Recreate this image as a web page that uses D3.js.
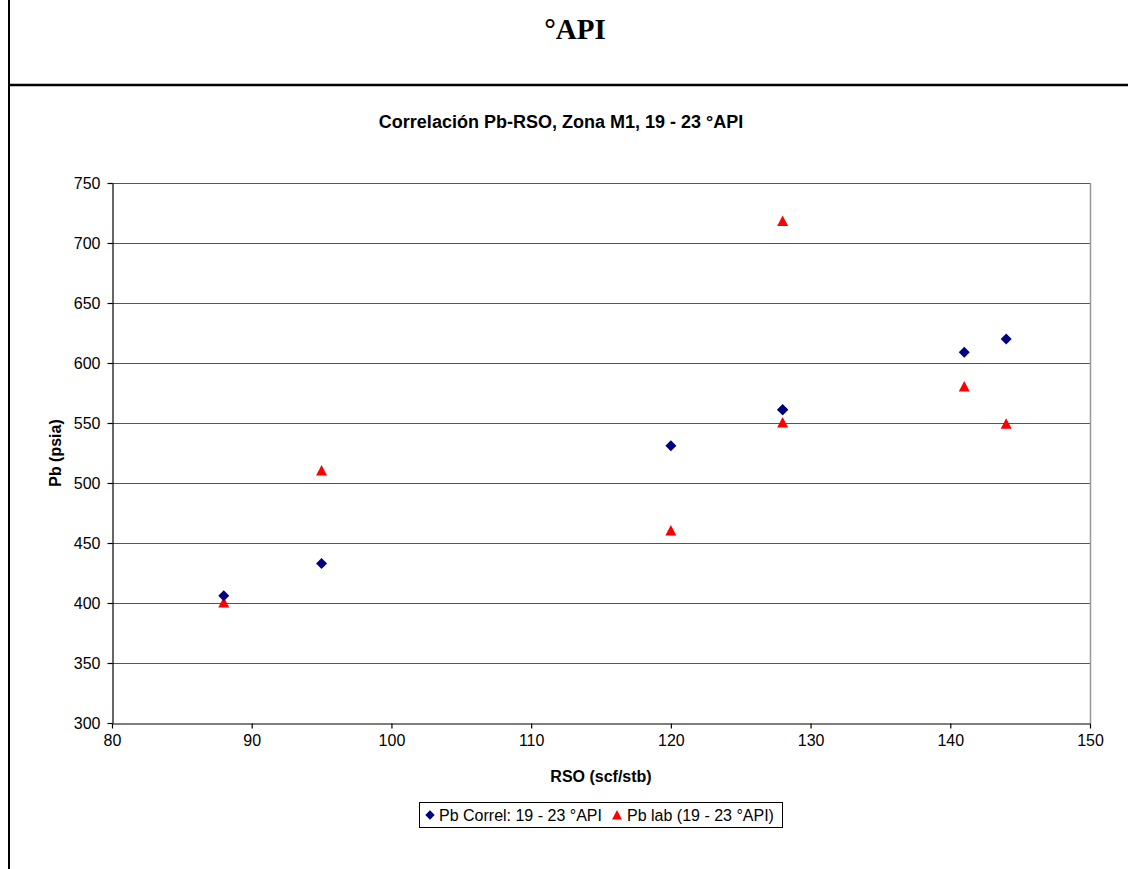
<!DOCTYPE html>
<html><head><meta charset="utf-8">
<script src="https://cdn.jsdelivr.net/npm/d3@7"></script>
<style>body{margin:0;background:#fff}svg{display:block}</style>
</head><body>
<svg id="c" width="1128" height="869"></svg>
<script>
const pageTitle = "°API";
const chartTitle = "Correlación Pb-RSO, Zona M1, 19 - 23 °API";
const xTitle = "RSO (scf/stb)";
const yTitle = "Pb (psia)";
const xTicks = [80, 90, 100, 110, 120, 130, 140, 150];
const yTicks = [300, 350, 400, 450, 500, 550, 600, 650, 700, 750];
const correlName = "Pb Correl: 19 - 23 °API";
const correlRSO = [88, 95, 120, 128, 128, 141, 144];
const correlPb  = [406, 433, 531, 561, 561, 609, 620];
const labName = "Pb lab (19 - 23 °API)";
const labRSO = [88, 95, 120, 128, 128, 141, 144];
const labPb  = [400, 510, 460, 718, 550, 580, 549];

const svg = d3.select("#c");
const L = 112, R = 1090, T = 183, B = 723;
const x = d3.scaleLinear().domain([80, 150]).range([L, R]);
const y = d3.scaleLinear().domain([300, 750]).range([B, T]);
const font = "'Liberation Sans',Arial,sans-serif";

// frame lines
svg.append("line").attr("x1", 9).attr("x2", 9).attr("y1", 0).attr("y2", 869).attr("stroke", "#000").attr("stroke-width", 2);
svg.append("line").attr("x1", 8).attr("x2", 1128).attr("y1", 85).attr("y2", 85).attr("stroke", "#000").attr("stroke-width", 2.5);

svg.append("text").attr("x", 575).attr("y", 39).attr("text-anchor", "middle")
  .attr("font-family", "'Liberation Serif','Times New Roman',serif").attr("font-weight", "bold")
  .attr("font-size", 29).text(pageTitle);

svg.append("text").attr("x", 561).attr("y", 128).attr("text-anchor", "middle")
  .attr("font-family", font).attr("font-weight", "bold")
  .attr("font-size", 18).text(chartTitle);

// grid
svg.append("g").selectAll("line").data(yTicks.slice(1)).join("line")
  .attr("x1", L).attr("x2", R).attr("y1", d => Math.round(y(d)) + 0.5).attr("y2", d => Math.round(y(d)) + 0.5)
  .attr("stroke", "#555").attr("stroke-width", 1.2);
// right border of plot area
svg.append("line").attr("x1", R + 0.5).attr("x2", R + 0.5).attr("y1", T).attr("y2", B)
  .attr("stroke", "#999").attr("stroke-width", 1.5);

// axes
const xAxis = svg.append("g").attr("transform", `translate(0,${B + 0.5})`)
  .call(d3.axisBottom(x).tickValues(xTicks).tickSize(5).tickPadding(6).tickSizeOuter(0));
const yAxis = svg.append("g").attr("transform", `translate(${L + 0.5},0)`)
  .call(d3.axisLeft(y).tickValues(yTicks).tickSize(5).tickPadding(7).tickSizeOuter(0));
[xAxis, yAxis].forEach(a => {
  a.selectAll("text").attr("font-family", font).attr("font-size", 16).attr("fill", "#000");
  a.selectAll("line, path").attr("stroke", "#000").attr("stroke-width", 1.2);
});
xAxis.selectAll("text").attr("dy", "0.72em");

svg.append("text").attr("x", 601).attr("y", 782).attr("text-anchor", "middle")
  .attr("font-family", font).attr("font-weight", "bold").attr("font-size", 16).text(xTitle);
svg.append("text").attr("transform", `translate(61,${(T + B) / 2}) rotate(-90)`).attr("text-anchor", "middle")
  .attr("font-family", font).attr("font-weight", "bold").attr("font-size", 16).text(yTitle);

// markers
const diamond = "M0,-5.5L5.5,0L0,5.5L-5.5,0Z";
const tri = "M0,-6L5.5,4.5L-5.5,4.5Z";
svg.append("g").selectAll("path").data(labRSO.map((r, i) => [r, labPb[i]])).join("path")
  .attr("d", tri).attr("fill", "#ff0000")
  .attr("transform", d => `translate(${x(d[0])},${y(d[1])})`);
svg.append("g").selectAll("path").data(correlRSO.map((r, i) => [r, correlPb[i]])).join("path")
  .attr("d", diamond).attr("fill", "#000080")
  .attr("transform", d => `translate(${x(d[0])},${y(d[1])})`);

// legend
const lg = svg.append("g");
lg.append("rect").attr("x", 419.5).attr("y", 802.5).attr("width", 363).attr("height", 25)
  .attr("fill", "#fff").attr("stroke", "#000").attr("stroke-width", 1);
lg.append("path").attr("d", diamond).attr("fill", "#000080").attr("transform", "translate(430,815) scale(0.85)");
lg.append("text").attr("x", 439).attr("y", 821).attr("font-family", font).attr("font-size", 16).text(correlName);
lg.append("path").attr("d", tri).attr("fill", "#ff0000").attr("transform", "translate(617,815.5) scale(0.9)");
lg.append("text").attr("x", 627).attr("y", 821).attr("font-family", font).attr("font-size", 16).text(labName);
</script>
</body></html>
